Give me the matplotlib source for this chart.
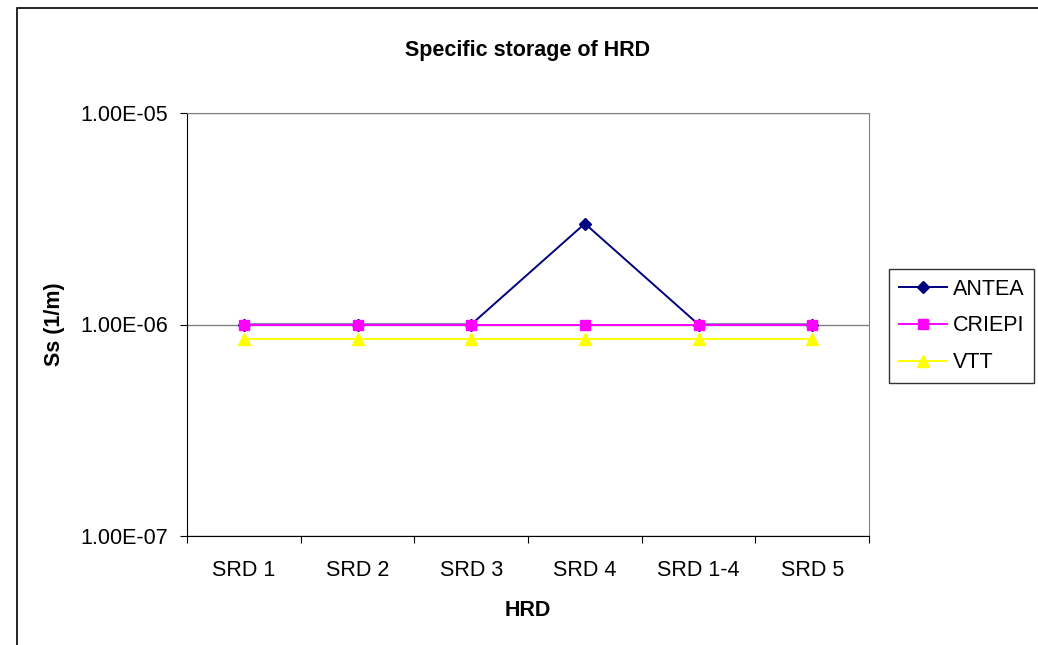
import matplotlib.pyplot as plt
from matplotlib.patches import Rectangle

categories = ['SRD 1', 'SRD 2', 'SRD 3', 'SRD 4', 'SRD 1-4', 'SRD 5']
antea = [1.0e-6, 1.0e-6, 1.0e-6, 3.0e-6, 1.0e-6, 1.0e-6]
criepi = [1.0e-6, 1.0e-6, 1.0e-6, 1.0e-6, 1.0e-6, 1.0e-6]
vtt = [8.5e-7, 8.5e-7, 8.5e-7, 8.5e-7, 8.5e-7, 8.5e-7]
ytick_vals = [1e-7, 1e-6, 1e-5]
ytick_labels = ['1.00E-07', '1.00E-06', '1.00E-05']

plt.rcParams['font.family'] = ['Liberation Sans', 'DejaVu Sans']
fs = 15.5

W, H = 1038, 645
fig = plt.figure(figsize=(W / 100, H / 100), dpi=100)

# outer chart border (cut off at right and bottom like the reference)
fig.patches.append(Rectangle((17 / W, -0.1), 1.2, 1 - 8 / H + 0.1,
                             transform=fig.transFigure, fill=False,
                             edgecolor='black', linewidth=1.2))

left, right, top, bottom = 187, 869, 113, 536
ax = fig.add_axes([left / W, 1 - bottom / H, (right - left) / W, (bottom - top) / H])

x = list(range(len(categories)))
ax.plot(x, antea, color='#000080', marker='D', markersize=6.5, linewidth=1.4, label='ANTEA', zorder=3)
ax.plot(x, criepi, color='#FF00FF', marker='s', markersize=7.5, linewidth=1.4, label='CRIEPI', zorder=4)
ax.plot(x, vtt, color='#FFFF00', marker='^', markersize=8.5, linewidth=1.4, label='VTT', zorder=4)

ax.set_yscale('log')
ax.set_ylim(1e-7, 1e-5)
ax.set_yticks(ytick_vals)
ax.set_yticklabels(ytick_labels)
ax.yaxis.set_minor_locator(plt.NullLocator())
ax.grid(axis='y', which='major', color='#808080', linewidth=1)

ax.set_xlim(-0.5, len(categories) - 0.5)
ax.set_xticks([i - 0.5 for i in range(len(categories) + 1)])
ax.set_xticklabels([])
ax.set_xticks(x, minor=True)
ax.set_xticklabels(categories, minor=True)
ax.tick_params(axis='x', which='minor', length=0, pad=17, labelsize=fs)
ax.tick_params(axis='x', which='major', length=5, direction='out', color='black')
ax.tick_params(axis='y', which='major', length=5, direction='out', labelsize=fs, pad=8.5)

for side in ['top', 'right']:
    ax.spines[side].set_color('#808080')
for side in ['left', 'bottom']:
    ax.spines[side].set_color('black')

ax.set_title('Specific storage of HRD', fontsize=fs, fontweight='bold', pad=41)
ax.set_xlabel('HRD', fontsize=fs, fontweight='bold', labelpad=14)
ax.set_ylabel('Ss (1/m)', fontsize=fs, fontweight='bold', labelpad=11)

leg = ax.legend(loc='upper left', bbox_to_anchor=(1.03, 1 - (269 - top) / (bottom - top)),
                frameon=True, fancybox=False, edgecolor='black', fontsize=fs,
                handlelength=2.2, borderpad=0.45, labelspacing=0.73,
                handletextpad=0.28, borderaxespad=0)
leg.get_frame().set_linewidth(1)

fig.savefig('out.png', dpi=100)
